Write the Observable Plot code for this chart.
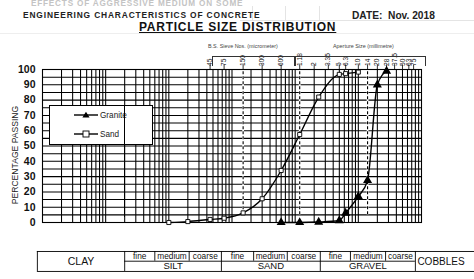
<!DOCTYPE html>
<html><head><meta charset="utf-8">
<script src="https://cdn.jsdelivr.net/npm/d3@7"></script>
<script src="https://cdn.jsdelivr.net/npm/@observablehq/plot@0.6"></script>
<style>
html,body{margin:0;padding:0;background:#fff;overflow:hidden;}
#wrap{position:relative;width:474px;height:279px;font-family:"Liberation Sans",Arial,sans-serif;}
#wrap svg.plot{position:absolute;left:0;top:0;}
.ov{position:absolute;white-space:nowrap;line-height:1;}
</style></head>
<body><div id="wrap"></div>
<script>
// ---- data ----
const sandSize = [0.01, 0.02, 0.045, 0.075, 0.15, 0.3, 0.6, 1.18, 2.36, 5, 6.3, 10];
const sandPass = [0, 0.6, 2, 2.8, 6.3, 15.5, 34, 57.5, 82, 96.8, 97.3, 98.3];
const graniteSize = [0.6, 1.18, 2.36, 5, 6.3, 10, 14, 20, 28];
const granitePass = [0, 0, 0.3, 1.3, 6.2, 17, 27.5, 90, 99];
const xTicks = [0.0001, 0.001, 0.01, 0.1, 1, 10, 100];
const xTickLabels = ["0.0001", "0.001", "0.01", "0.1", "1", "10", "100"];
const yTicks = [0, 10, 20, 30, 40, 50, 60, 70, 80, 90, 100];
const sieveMicron = [45, 75, 150, 300, 600];
const sieveMm = [1.18, 2, 3.35, 5, 6.3, 10, 14, 20, 28, 37.5, 50, 63, 75];
const dashedSieves = [0.15, 1.18, 14];
const soilEdges = [0.000083, 0.002, 0.006, 0.021, 0.068, 0.22, 0.75, 2.5, 7.5, 27, 80, 3000];
const subLabels = ["fine", "medium", "coarse"];
const groupNames = ["SILT", "SAND", "GRAVEL"];
const seriesNames = ["Granite", "Sand"];

const sand = sandSize.map((s, i) => ({size: s, pass: sandPass[i]}));
const granite = graniteSize.map((s, i) => ({size: s, pass: granitePass[i]}));
const gridX = [];
for (let k = -4; k <= 1; k++) for (let m = 1; m <= 9; m++) gridX.push(+(m * Math.pow(10, k)).toPrecision(3));
gridX.push(100);
const gridY = d3.range(0, 101, 5);
const sieves = [
  ...sieveMicron.map(v => ({x: v / 1000, label: String(v)})),
  ...sieveMm.map(v => ({x: v, label: String(v)}))
];
const cells = d3.range(1, 10).map(i => ({x: Math.sqrt(soilEdges[i] * soilEdges[i + 1]), label: subLabels[(i - 1) % 3]}));
const groups = [0, 1, 2].map(g => ({x: Math.sqrt(soilEdges[1 + 3 * g] * soilEdges[4 + 3 * g]), label: groupNames[g]}));
const fullDiv = [0, 1, 4, 7, 10].map(i => soilEdges[i]);
const subDiv = [2, 3, 5, 6, 8, 9].map(i => soilEdges[i]);

const T1 = -18.95, T2 = -25.3, T3 = -32;
const font = "Liberation Sans";

const plot = Plot.plot({
  width: 474, height: 279,
  marginLeft: 42, marginRight: 53, marginTop: 69, marginBottom: 57,
  style: {fontFamily: font, background: "transparent", overflow: "visible"},
  x: {type: "log", domain: [0.0001, 100]},
  y: {domain: [0, 100]},
  marks: [
    Plot.ruleX(gridX, {stroke: "#000", strokeWidth: 1.05}),
    Plot.ruleY(gridY, {stroke: "#000", strokeWidth: 1.05}),
    Plot.ruleX(dashedSieves, {y1: 5, y2: 100, stroke: "#fff", strokeWidth: 1.8}),
    Plot.ruleX(dashedSieves, {y1: 5, y2: 100, stroke: "#000", strokeWidth: 1.1, strokeDasharray: "3,2"}),
    Plot.frame({stroke: "#000", strokeWidth: 1.1}),
    Plot.ruleX(sieves, {x: "x", y1: 100, y2: 103, stroke: "#000", strokeWidth: 0.8}),
    Plot.text(sieves, {x: "x", y: 102.3, text: "label", rotate: -90, textAnchor: "start", fontSize: 6.6, fill: "#111"}),
    Plot.line(sand, {x: "size", y: "pass", curve: "monotone-x", stroke: "#000", strokeWidth: 1.4}),
    Plot.line(granite, {x: "size", y: "pass", curve: "monotone-x", stroke: "#000", strokeWidth: 1.4}),
    Plot.dot(sand, {x: "size", y: "pass", symbol: "square", r: 2.3, fill: "#fff", stroke: "#000", strokeWidth: 0.9}),
    Plot.dot(granite, {x: "size", y: "pass", symbol: "triangle", r: 2.4, fill: "#000", stroke: "#000"}),
    Plot.axisY({ticks: yTicks, tickSize: 0, tickPadding: 7, fontSize: 10.5, fontWeight: "bold", label: null, fill: "#111"}),
    Plot.axisX({ticks: xTicks, tickFormat: (d, i) => xTickLabels[i], tickSize: 0, tickPadding: 4, fontSize: 10.5, fontWeight: "bold", label: null, fill: "#111"}),
    // classification table
    Plot.ruleY([T1, T3], {x1: soilEdges[0], x2: soilEdges[11], stroke: "#000", strokeWidth: 0.9}),
    Plot.ruleY([T2], {x1: soilEdges[1], x2: soilEdges[10], stroke: "#000", strokeWidth: 0.9}),
    Plot.ruleX(fullDiv, {y1: T1, y2: T3, stroke: "#000", strokeWidth: 0.9}),
    Plot.ruleX(subDiv, {y1: T1, y2: T2, stroke: "#000", strokeWidth: 0.9}),
    Plot.text(cells, {x: "x", y: (T1 + T2) / 2, text: "label", fontSize: 8.3, fill: "#111"}),
    Plot.text(groups, {x: "x", y: (T2 + T3) / 2, text: "label", fontSize: 9.5, fill: "#111"}),
    Plot.text(["CLAY"], {x: Math.sqrt(soilEdges[0] * soilEdges[1]), y: (T1 + T3) / 2, fontSize: 10.5, fill: "#111"}),
    Plot.text(["COBBLES"], {x: soilEdges[10], y: (T1 + T3) / 2, dx: 2, textAnchor: "start", fontSize: 10, fill: "#111"})
  ]
});
plot.classList.add("plot");
const wrap = document.getElementById("wrap");
wrap.appendChild(plot);
const xs = plot.scale("x"), ys = plot.scale("y");

function ov(html, css) {
  const d = document.createElement("div");
  d.className = "ov";
  d.innerHTML = html;
  Object.assign(d.style, css);
  wrap.appendChild(d);
  return d;
}
// faint spreadsheet cell lines
ov("", {left: "240px", top: "20px", width: "234px", height: "0", borderTop: "1px solid #e4e4e4"});
ov("", {left: "0px", top: "33px", width: "474px", height: "0", borderTop: "1px solid #eeeeee"});
[252, 285, 319].forEach(x => ov("", {left: x + "px", top: "6px", width: "0", height: "14px", borderLeft: "1px solid #e4e4e4"}));
// headers
ov("EFFECTS OF AGGRESSIVE MEDIUM ON SOME", {left: "31px", top: "0px", fontSize: "8.2px", fontWeight: "bold", color: "#c4c4c4", letterSpacing: "0.8px"});
ov("ENGINEERING CHARACTERISTICS OF CONCRETE", {left: "23px", top: "10.5px", fontSize: "8.4px", fontWeight: "bold", color: "#222", letterSpacing: "0.85px"});
ov("DATE:&nbsp; Nov. 2018", {left: "352px", top: "10.5px", fontSize: "10.2px", fontWeight: "bold", color: "#222"});
ov("PARTICLE SIZE DISTRIBUTION", {left: "139px", top: "20.5px", fontSize: "12px", fontWeight: "bold", color: "#111", textDecoration: "underline", letterSpacing: "0.75px"});
ov("B.S. Sieve Nos. (micrometer)", {left: "208px", top: "44px", fontSize: "5.4px", color: "#444"});
ov("Aperture Size (millimetre)", {left: "333px", top: "44px", fontSize: "5.4px", color: "#444"});
// y-axis title
ov("PERCENTAGE PASSING", {left: "15px", top: "155px", fontSize: "8.6px", color: "#222", transform: "translate(-50%,-50%) rotate(-90deg)"});
// sieve brackets
function bracket(a, b) {
  const l = xs.apply(a), r = xs.apply(b);
  ov("", {left: l + "px", top: "56px", width: (r - l) + "px", height: "9px", borderTop: "1px solid #333", borderLeft: "1px solid #333", borderRight: "1px solid #333"});
}
bracket(0.05, 0.93);
bracket(1.0, 112);
// legend
const lg = ov("", {left: "49px", top: "105px", width: "102px", height: "38px", border: "1px solid #000", background: "#fff"});
lg.innerHTML = `<svg width="102" height="38" style="position:absolute;left:0;top:0">
<line x1="24" x2="48" y1="9" y2="9" stroke="#000" stroke-width="1.4"/>
<path d="M36,5.8 L39.6,11.6 L32.4,11.6 Z" fill="#000"/>
<text x="50" y="12" font-size="8.2" fill="#222" font-family="${font}">${seriesNames[0]}</text>
<line x1="24" x2="48" y1="28" y2="28" stroke="#000" stroke-width="1.4"/>
<rect x="33" y="25" width="6" height="6" fill="#fff" stroke="#000" stroke-width="0.9"/>
<text x="50" y="31" font-size="8.2" fill="#222" font-family="${font}">${seriesNames[1]}</text>
</svg>`;
// 0.002 line drawn over the legend
const x002 = xs.apply(0.002);
ov("", {left: (x002 - 0.5) + "px", top: "105px", width: "0", height: (ys.apply(3) - 105) + "px", borderLeft: "1px solid #000"});
</script>
</body></html>
